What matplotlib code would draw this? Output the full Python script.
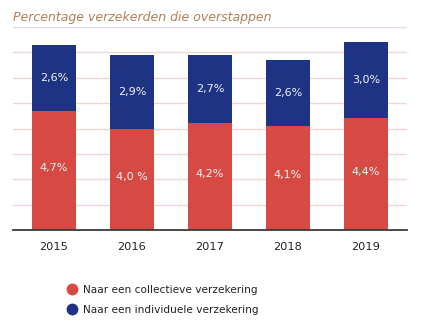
import matplotlib
matplotlib.use("Agg")
import matplotlib.pyplot as plt
from matplotlib.lines import Line2D
import numpy as np

years = ["2015", "2016", "2017", "2018", "2019"]
collectief = [4.7, 4.0, 4.2, 4.1, 4.4]
individueel = [2.6, 2.9, 2.7, 2.6, 3.0]
labels_collectief = ["4,7%", "4,0 %", "4,2%", "4,1%", "4,4%"]
labels_individueel = ["2,6%", "2,9%", "2,7%", "2,6%", "3,0%"]
series_names = ["Naar een collectieve verzekering", "Naar een individuele verzekering"]

RED = "#d64a43"
BLUE = "#1e3384"
GRID = "#f0d6d4"
TEXT = "#222222"

plt.rcParams["font.family"] = "DejaVu Sans"

fig = plt.figure(figsize=(4.26, 3.28), dpi=100)
ax = fig.add_axes([13 / 426, 1 - 230 / 328, 394 / 426, 203 / 328])

x = np.arange(len(years))
w = 0.564
ax.bar(x, collectief, width=w, color=RED, zorder=3)
ax.bar(x, individueel, width=w, bottom=collectief, color=BLUE, zorder=3)

for xi, c, i, lc, li in zip(x, collectief, individueel, labels_collectief, labels_individueel):
    ax.text(xi, c / 2 + 0.1, lc, ha="center", va="center", color="#f4f4f4", fontsize=8, zorder=4)
    ax.text(xi, c + i / 2, li, ha="center", va="center", color="#f4f4f4", fontsize=8, zorder=4)

ax.set_ylim(0, 8)
ax.set_xlim(-0.526, 4.526)
ax.set_yticks(np.arange(1, 9))
ax.yaxis.grid(True, color=GRID, linewidth=1.0, zorder=0)
ax.tick_params(axis="y", left=False, labelleft=False)
ax.tick_params(axis="x", length=0, pad=9, labelsize=8.2, labelcolor=TEXT)
ax.set_xticks(x)
ax.set_xticklabels(years)
for s in ["left", "right", "top"]:
    ax.spines[s].set_visible(False)
ax.spines["bottom"].set_color("#3a3a3a")
ax.spines["bottom"].set_linewidth(1.3)
ax.spines["bottom"].set_zorder(5)

fig.text(13 / 426, 1 - 17 / 328, "Percentage verzekerden die overstappen",
         ha="left", va="center", fontsize=9.0, style="italic", color="#b37f55")

handles = [
    Line2D([0], [0], marker="o", linestyle="none", markersize=7.5, color=RED),
    Line2D([0], [0], marker="o", linestyle="none", markersize=7.5, color=BLUE),
]
fig.legend(handles, series_names, loc="upper left",
           bbox_to_anchor=(68 / 426, 1 - 285 / 328), frameon=False,
           fontsize=7.6, labelcolor=TEXT, handlelength=0.8, handletextpad=0.6,
           labelspacing=0.95, borderpad=0, borderaxespad=0)

fig.savefig("out.png", dpi=100, facecolor="white")
